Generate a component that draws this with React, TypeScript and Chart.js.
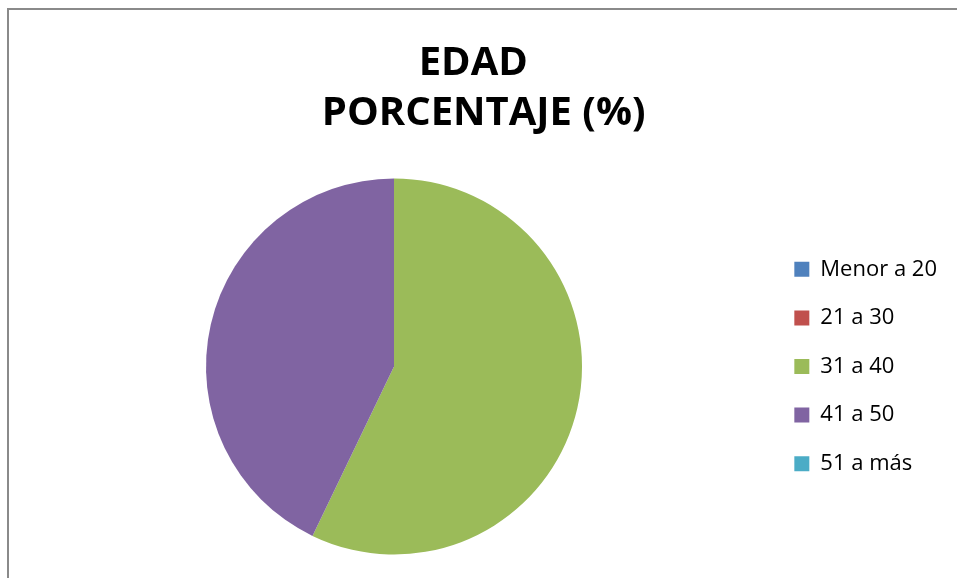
import React, { useEffect, useRef } from "react";
import { Chart, registerables } from "chart.js";

Chart.register(...registerables);

const categories: string[] = ["Menor a 20", "21 a 30", "31 a 40", "41 a 50", "51 a más"];
const percentages: number[] = [0, 0, 57.14, 42.86, 0];
const sliceColors: string[] = ["#4F81BD", "#C0504D", "#9BBB59", "#8064A2", "#4BACC6"];
const titleLines: string[] = ["EDAD  ", "PORCENTAJE (%)"];

export default function App() {
  const canvasRef = useRef<HTMLCanvasElement | null>(null);

  useEffect(() => {
    const canvas = canvasRef.current;
    if (!canvas) return;
    const chart = new Chart(canvas, {
      type: "pie",
      data: {
        labels: categories,
        datasets: [
          {
            data: percentages,
            backgroundColor: sliceColors,
            borderWidth: 0,
          },
        ],
      },
      options: {
        animation: false,
        responsive: false,
        devicePixelRatio: 1,
        layout: { padding: { left: 20.3, right: 10, top: 0, bottom: 23.5 } },
        plugins: {
          title: {
            display: true,
            text: titleLines,
            color: "#000000",
            font: { family: "'Open Sans', sans-serif", size: 40, weight: "bold", lineHeight: 1.24 },
            padding: { top: 39, bottom: 40.3 },
          },
          legend: {
            display: true,
            position: "right",
            align: "center",
            fullSize: false,
            labels: {
              color: "#000000",
              font: { family: "'Open Sans', sans-serif", size: 22 },
              boxWidth: 15,
              boxHeight: 15,
              padding: 26.6,
            },
          },
          tooltip: { enabled: false },
        },
      },
    });
    return () => chart.destroy();
  }, []);

  return (
    <div style={{ position: "fixed", left: 0, top: 0, width: 957, height: 578, background: "#ffffff", overflow: "hidden" }}>
      <div
        style={{
          position: "absolute",
          left: 7,
          top: 8,
          width: 1000,
          height: 1000,
          borderLeft: "2px solid #8a8a8a",
          borderTop: "2px solid #8a8a8a",
        }}
      />
      <canvas ref={canvasRef} width={957} height={578} style={{ position: "absolute", left: 0, top: 0 }} />
    </div>
  );
}
